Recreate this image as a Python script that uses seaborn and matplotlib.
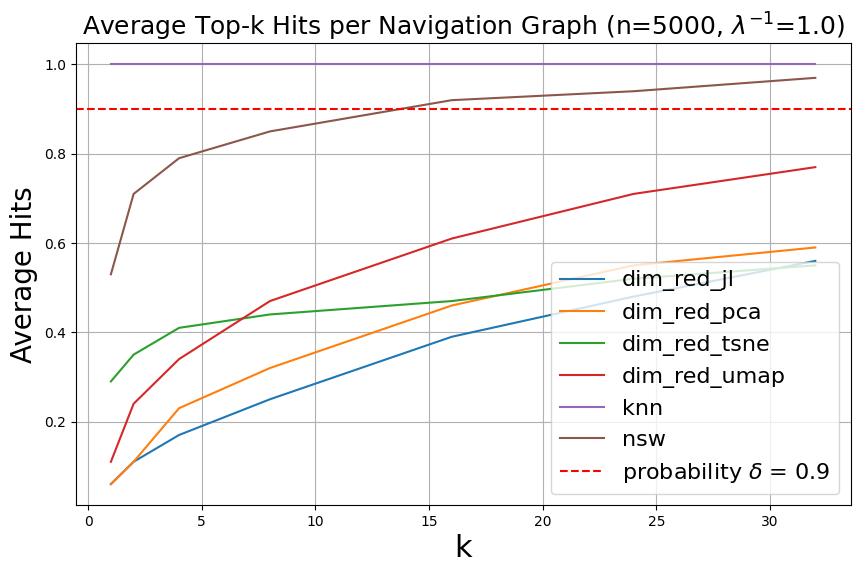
import pandas as pd
import seaborn as sns
import matplotlib.pyplot as plt

# top-k values on the x axis
k_values = [1, 2, 4, 8, 16, 24, 32]

# average hits per graph
dim_red_jl = [0.06, 0.11, 0.17, 0.25, 0.39, 0.48, 0.56]
dim_red_pca = [0.06, 0.11, 0.23, 0.32, 0.46, 0.55, 0.59]
dim_red_tsne = [0.29, 0.35, 0.41, 0.44, 0.47, 0.52, 0.55]
dim_red_umap = [0.11, 0.24, 0.34, 0.47, 0.61, 0.71, 0.77]
knn = [1.0, 1.0, 1.0, 1.0, 1.0, 1.0, 1.0]
nsw = [0.53, 0.71, 0.79, 0.85, 0.92, 0.94, 0.97]

graphs = ["dim_red_jl", "dim_red_pca", "dim_red_tsne", "dim_red_umap", "knn", "nsw"]
threshold = 0.9


def build_frame():
    """Put all series in one long dataframe for seaborn."""
    series = [dim_red_jl, dim_red_pca, dim_red_tsne, dim_red_umap, knn, nsw]
    rows = []
    for name, values in zip(graphs, series):
        for k, v in zip(k_values, values):
            rows.append({"k": k, "hits": v, "graph": name})
    return pd.DataFrame(rows)


def main():
    df = build_frame()

    fig, ax = plt.subplots(figsize=(8.6, 5.72), dpi=100)
    sns.lineplot(data=df, x="k", y="hits", hue="graph", hue_order=graphs,
                 palette="tab10", ax=ax, linewidth=1.5)

    ax.axhline(threshold, color="red", linestyle="--", linewidth=1.5,
               label=r"probability $\delta$ = 0.9")

    ax.set_title(r"Average Top-k Hits per Navigation Graph (n=5000, $\lambda^{-1}$=1.0)",
                 fontsize=18)
    ax.set_xlabel("k", fontsize=22)
    ax.set_ylabel("Average Hits", fontsize=20)
    ax.grid(True)
    ax.legend(loc="lower right", fontsize=16)

    fig.subplots_adjust(left=0.088, right=0.989, top=0.924, bottom=0.117)
    fig.savefig("out.png", dpi=100)


if __name__ == "__main__":
    main()
